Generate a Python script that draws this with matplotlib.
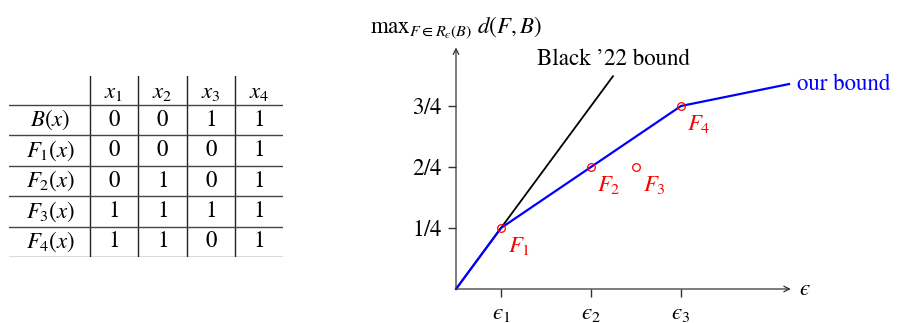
import matplotlib
matplotlib.use("Agg")
import matplotlib.pyplot as plt

# table data
col_labels = [r"$x_1$", r"$x_2$", r"$x_3$", r"$x_4$"]
row_labels = [r"$B(x)$", r"$F_1(x)$", r"$F_2(x)$", r"$F_3(x)$", r"$F_4(x)$"]
table_vals = [
    [0, 0, 1, 1],
    [0, 0, 0, 1],
    [0, 1, 0, 1],
    [1, 1, 1, 1],
    [1, 1, 0, 1],
]

# plot data
EPS = "\u03f5"
eps_ticks = [0.5, 1.5, 2.5]
eps_labels = [f"${EPS}_1$", f"${EPS}_2$", f"${EPS}_3$"]
frac_ticks = [0.25, 0.5, 0.75]
frac_labels = [r"$1/4$", r"$2/4$", r"$3/4$"]
black_x = [0, 1.75]
black_y = [0, 0.875]
blue_x = [0, 0.5, 1.5, 2.5, 3.7]
blue_y = [0, 0.25, 0.5, 0.75, 0.84]
pts_x = [0.5, 1.5, 2.0, 2.5]
pts_y = [0.25, 0.5, 0.5, 0.75]
pts_names = [r"$F_1$", r"$F_2$", r"$F_3$", r"$F_4$"]

plt.rcParams["mathtext.fontset"] = "stix"
plt.rcParams["font.family"] = ["STIXGeneral", "DejaVu Serif"]
FS = 16.5
AX_COL = "#333333"

fig = plt.figure(figsize=(9.02, 3.23), dpi=100)
W, H = 902, 323

# ---- table ----
col_w = [81, 48, 49, 48, 48]
head_h = 29
row_h = 30.4
tw = sum(col_w)
th = head_h + row_h * len(row_labels)
tab_left, tab_top = 9, 76
axt = fig.add_axes([tab_left / W, (H - tab_top - th) / H, tw / W, th / H])
axt.set_xlim(0, tw)
axt.set_ylim(th, 0)
axt.axis("off")

edges = [0]
for w in col_w:
    edges.append(edges[-1] + w)
for xe in edges[1:-1]:
    axt.plot([xe, xe], [0, th], color="#222222", lw=1.0)
for i in range(len(row_labels)):
    yl = head_h + row_h * i
    axt.plot([0, tw], [yl, yl], color="#444444", lw=1.0)
axt.plot([0, tw], [th, th], color="#444444", lw=1.0)

for j, lab in enumerate(col_labels):
    xc = (edges[j + 1] + edges[j + 2]) / 2
    axt.text(xc, head_h / 2 + 2, lab, ha="center", va="center", fontsize=FS)
for i, lab in enumerate(row_labels):
    yc = head_h + row_h * (i + 0.5)
    axt.text(edges[0] + col_w[0] / 2 + 1, yc, lab, ha="center", va="center", fontsize=FS)
    for j, v in enumerate(table_vals[i]):
        xc = (edges[j + 1] + edges[j + 2]) / 2
        axt.text(xc, yc, f"${v}$", ha="center", va="center", fontsize=FS)

# ---- plot ----
xmax, ymax = 3.72, 0.99
ox, oy, ux, uy = 456, 289, 90, 244
ax = fig.add_axes([ox / W, (H - oy) / H, ux * xmax / W, uy * ymax / H])
ax.set_xlim(0, xmax)
ax.set_ylim(0, ymax)
for s in ax.spines.values():
    s.set_visible(False)
ax.patch.set_visible(False)

ax.set_xticks(eps_ticks)
ax.set_xticklabels(eps_labels)
ax.set_yticks(frac_ticks)
ax.set_yticklabels(frac_labels)
ax.tick_params(axis="both", direction="out", length=5.5, width=1.0, color=AX_COL,
               labelsize=FS, pad=4)

arrow = dict(arrowstyle="->", color=AX_COL, lw=0.9, shrinkA=0, shrinkB=0)
ax.annotate("", xy=(xmax, 0), xytext=(0, 0), arrowprops=arrow, annotation_clip=False)
ax.annotate("", xy=(0, ymax), xytext=(0, 0), arrowprops=arrow, annotation_clip=False)
ax.annotate(f"${EPS}$", xy=(xmax, 0), xytext=(6, 0), textcoords="offset points",
            ha="left", va="center", fontsize=FS, annotation_clip=False)
ax.annotate(r"$\mathrm{max}_{F\in R_{%s}(B)}\ d(F,B)$" % EPS, xy=(0, ymax), xytext=(0, 5),
            textcoords="offset points", ha="center", va="bottom", fontsize=FS,
            annotation_clip=False)

ax.plot(black_x, black_y, color="black", lw=1.3, solid_capstyle="butt", clip_on=False)
ax.plot(blue_x, blue_y, color="blue", lw=1.6, clip_on=False)
ax.annotate("Black \u201922 bound", xy=(black_x[-1], black_y[-1]), xytext=(0, 4),
            textcoords="offset points", ha="center", va="bottom", fontsize=FS,
            annotation_clip=False)
ax.annotate("our bound", xy=(blue_x[-1], blue_y[-1]), xytext=(6, 0),
            textcoords="offset points", ha="left", va="center", fontsize=FS,
            color="blue", annotation_clip=False)

ax.plot(pts_x, pts_y, linestyle="none", marker="o", markersize=5.5,
        markerfacecolor="none", markeredgecolor="red", markeredgewidth=0.9, clip_on=False, zorder=5)
for px, py, name in zip(pts_x, pts_y, pts_names):
    ax.annotate(name, xy=(px, py), xytext=(13, -13), textcoords="offset points",
                ha="center", va="center", fontsize=FS, color="red")

fig.savefig("out.png", dpi=100)
